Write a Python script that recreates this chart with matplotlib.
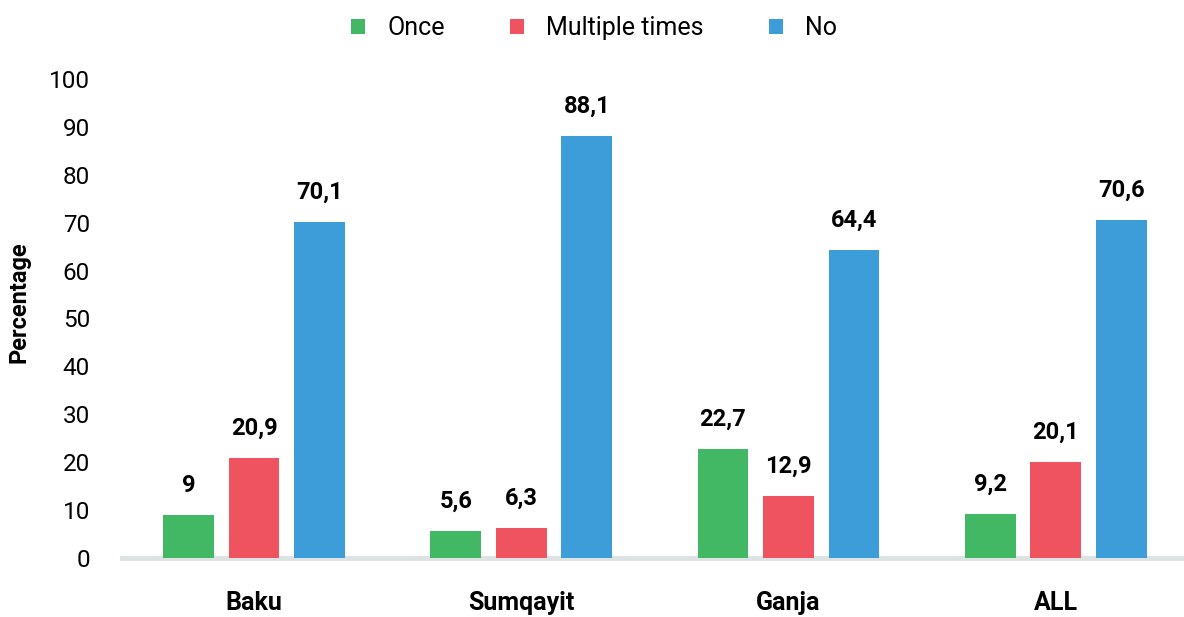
import matplotlib
matplotlib.use("Agg")
import matplotlib.pyplot as plt
import numpy as np

plt.rcParams['font.family'] = ['Roboto', 'DejaVu Sans']

# data
cities = ['Baku', 'Sumqayit', 'Ganja', 'ALL']
series = ['Once', 'Multiple times', 'No']
once = [9, 5.6, 22.7, 9.2]
multiple = [20.9, 6.3, 12.9, 20.1]
no = [70.1, 88.1, 64.4, 70.6]
colors = ['#43b864', '#ef5360', '#3d9dd9']

fig = plt.figure(figsize=(11.84, 6.17), dpi=100)
ax = fig.add_axes([0.103, 0.0956, 0.897, 0.7764])

x = np.arange(len(cities))
width = 0.19
step = 0.245
for i, (vals, name) in enumerate(zip([once, multiple, no], series)):
    pos = x + (i - 1) * step
    bars = ax.bar(pos, vals, width, color=colors[i], label=name, zorder=3)
    for b, v in zip(bars, vals):
        txt = ('%g' % v).replace('.', ',')
        ax.annotate(txt, (b.get_x() + b.get_width() / 2, v), xytext=(0, 13),
                    textcoords='offset points', ha='center', va='bottom',
                    fontsize=17, fontweight='bold', color='black')

ax.set_ylim(0, 100)
ax.set_xlim(-0.494, 3.48)
ax.set_yticks(range(0, 101, 10))
ax.set_xticks(x)
ax.set_xticklabels(cities, fontweight='bold')
ax.tick_params(axis='y', length=0, pad=23, labelsize=17.5)
ax.tick_params(axis='x', length=0, pad=24, labelsize=18)
for s in ['top', 'right', 'left']:
    ax.spines[s].set_visible(False)
ax.spines['bottom'].set_color('#dde3e3')
ax.spines['bottom'].set_linewidth(3.6)
ax.spines['bottom'].set_zorder(2)

ax.set_ylabel('Percentage', fontsize=17, fontweight='bold')
ax.yaxis.set_label_coords(-0.086, 0.535)

fig.legend(loc='upper center', bbox_to_anchor=(0.502, 1.01), ncol=3,
           frameon=False, fontsize=18, handlelength=0.55, handleheight=0.55,
           columnspacing=2.6, handletextpad=0.9)

fig.savefig('out.png', dpi=100)
